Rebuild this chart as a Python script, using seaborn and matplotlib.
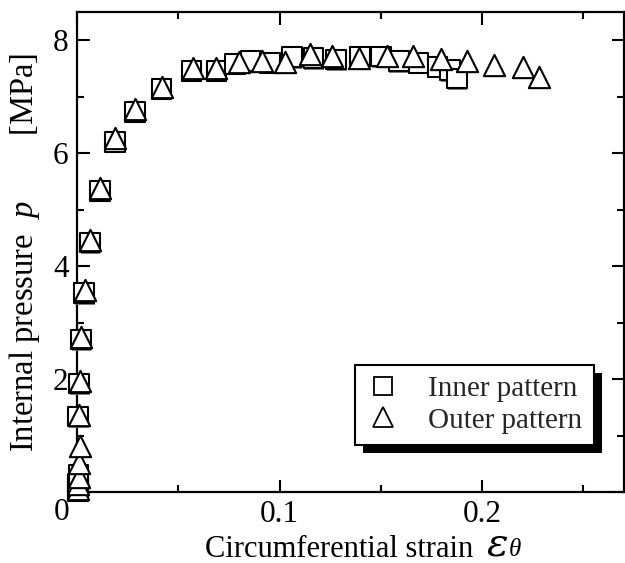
import matplotlib
matplotlib.use("Agg")
import matplotlib.pyplot as plt
import matplotlib.patheffects as pe
from matplotlib.lines import Line2D
from matplotlib.ticker import MultipleLocator
import seaborn as sns

# ---- data ----
inner_strain = [0.0004, 0.0005, 0.0006, 0.0008, 0.0006, 0.0011, 0.0020, 0.0036, 0.0064,
                0.0113, 0.0187, 0.0286, 0.0417, 0.0565, 0.0688, 0.0780, 0.0860, 0.0954,
                0.1060, 0.1167, 0.1280, 0.1397, 0.1500, 0.1588, 0.1686, 0.1780, 0.1840, 0.1875]
inner_pressure = [0.02, 0.08, 0.15, 0.30, 1.34, 1.92, 2.70, 3.52, 4.42,
                  5.33, 6.20, 6.73, 7.14, 7.46, 7.46, 7.58, 7.63, 7.60,
                  7.70, 7.68, 7.66, 7.71, 7.71, 7.63, 7.60, 7.53, 7.47, 7.32]

outer_strain = [0.0005, 0.0006, 0.0008, 0.0010, 0.0015, 0.0008, 0.0013, 0.0022, 0.0038,
                0.0066, 0.0115, 0.0189, 0.0288, 0.0419, 0.0575, 0.0688, 0.0800, 0.0915,
                0.1025, 0.1148, 0.1260, 0.1394, 0.1529, 0.1657, 0.1796, 0.1923, 0.2060,
                0.2200, 0.2280]
outer_pressure = [0.05, 0.15, 0.27, 0.51, 0.82, 1.36, 1.96, 2.74, 3.57,
                  4.47, 5.38, 6.26, 6.78, 7.18, 7.50, 7.50, 7.61, 7.63,
                  7.61, 7.75, 7.72, 7.69, 7.72, 7.72, 7.66, 7.63, 7.57,
                  7.52, 7.35]

x_ticks = [0.0, 0.1, 0.2]
x_tick_labels = ["", "0.1", "0.2"]
y_ticks = [0, 2, 4, 6, 8]
y_tick_labels = ["", "2", "4", "6", "8"]
legend_labels = ["Inner pattern", "Outer pattern"]
x_label = "Circumferential strain"
x_symbol = "ε"
x_subscript = "θ"
y_label = "Internal pressure  $p$        [MPa]"

# ---- style ----
sns.set_theme(style="ticks")
plt.rcParams["font.family"] = ["Liberation Serif", "DejaVu Serif"]
plt.rcParams["mathtext.fontset"] = "custom"
plt.rcParams["mathtext.it"] = "Liberation Serif:italic"
plt.rcParams["mathtext.rm"] = "Liberation Serif"
FS_TICK = 22.5
FS_XLABEL = 22
FS_YLABEL = 23.5
FS_LEG = 21

fig = plt.figure(figsize=(6.25, 5.63), dpi=100)
ax = fig.add_axes([77 / 625, 71 / 563, 547 / 625, 480 / 563])

shadow_sq = [pe.SimplePatchShadow(offset=(0.4, -1.2), shadow_rgbFace="0.45", alpha=0.9), pe.Normal()]

sns.scatterplot(x=inner_strain, y=inner_pressure, marker="s", s=200,
                color="white", edgecolor="black", linewidth=1.5,
                ax=ax, clip_on=False, zorder=3, legend=False)
ax.collections[-1].set_path_effects(shadow_sq)
sns.scatterplot(x=outer_strain, y=outer_pressure, marker="^", s=235,
                color="white", edgecolor="black", linewidth=1.5,
                ax=ax, clip_on=False, zorder=4, legend=False)

ax.set_xlim(0, 0.27)
ax.set_ylim(0, 8.5)
ax.set_xticks(x_ticks)
ax.set_xticklabels(x_tick_labels)
ax.set_yticks(y_ticks)
ax.set_yticklabels(y_tick_labels)
ax.xaxis.set_minor_locator(MultipleLocator(0.05))
ax.yaxis.set_minor_locator(MultipleLocator(1))
ax.tick_params(which="both", direction="in", top=True, right=True,
               width=1.5, color="black", labelsize=FS_TICK, labelcolor="black")
ax.tick_params(which="major", length=9, pad=6)
ax.tick_params(which="minor", length=5)
for sp in ax.spines.values():
    sp.set_linewidth(1.6)
    sp.set_color("black")
    sp.set_visible(True)

ax.text(-0.028, -0.012, "0", transform=ax.transAxes, ha="center", va="top",
        fontsize=FS_TICK, color="black")

ax.set_xlabel(x_label, fontsize=FS_XLABEL, color="black", labelpad=4)
ax.xaxis.label.set_x(0.479)
ax.set_ylabel(y_label, fontsize=FS_YLABEL, color="black", labelpad=8)
ax.yaxis.label.set_y(0.5)

eps = ax.annotate(x_symbol, xy=(1, 0), xycoords=ax.xaxis.label, xytext=(10, 0),
                  textcoords="offset points", fontsize=29, style="italic",
                  family="DejaVu Serif", ha="left", va="bottom", color="black")
ax.annotate(x_subscript, xy=(1, 0), xycoords=eps, xytext=(0, 2),
            textcoords="offset points", fontsize=18, style="italic",
            ha="left", va="bottom", color="black")

handles = [
    Line2D([], [], linestyle="none", marker="s", markersize=13, markerfacecolor="white",
           markeredgecolor="black", markeredgewidth=1.3),
    Line2D([], [], linestyle="none", marker="^", markersize=14, markerfacecolor="white",
           markeredgecolor="black", markeredgewidth=1.3),
]
leg = ax.legend(handles, legend_labels, loc="upper left", bbox_to_anchor=(0.508, 0.265),
                borderaxespad=0, frameon=True, fancybox=False, edgecolor="black",
                framealpha=1, fontsize=FS_LEG, handlelength=1.17, handletextpad=0.97,
                borderpad=0.38, labelspacing=0.17)
frame = leg.get_frame()
frame.set_linewidth(1.5)
frame.set_path_effects([pe.SimplePatchShadow(offset=(6, -6), shadow_rgbFace="black", alpha=1),
                        pe.Normal()])
leg.set_zorder(10)

fig.savefig("out.png", dpi=100)
